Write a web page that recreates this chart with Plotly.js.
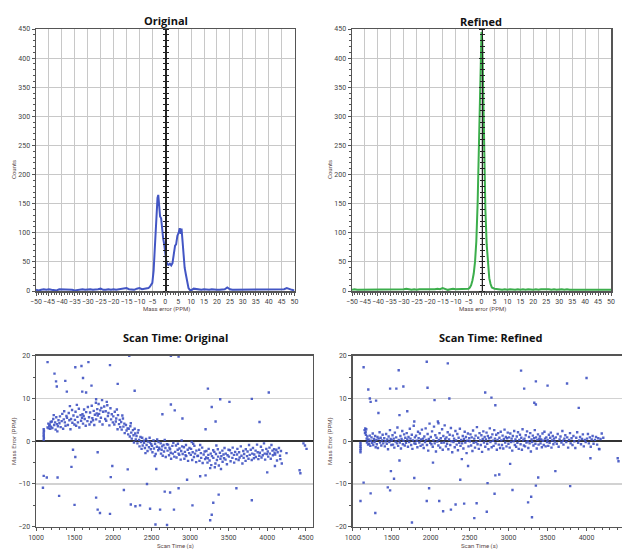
<!DOCTYPE html>
<html>
<head>
<meta charset="utf-8">
<script src="https://cdn.plot.ly/plotly-3.0.1.min.js"></script>
<style>html,body{margin:0;padding:0;background:#fff;}#chart{width:622px;height:549px;}</style>
</head>
<body>
<div id="chart"></div>
<script>
// ---------- Histogram data (Mass error in PPM vs Counts) ----------
const origHistX = [-50,-49,-48,-47,-46,-45,-44,-43,-42,-41,-40,-39,-38,-37,-36,-35,-34,-33,-32,-31,-30,-29,-28,-27,-26,-25,-24,-23,-22,-21,-20,-19,-18,-17,-16,-15,-14,-13,-12,-11,-10,-9,-8,
  -7,-6.5,-6,-5.5,-5,-4.5,-4,-3.5,-3,-2.7,-2.4,-2,-1.6,-1.2,-0.8,-0.4,0,0.4,0.8,1.3,1.8,2.3,2.8,3.3,3.8,4.2,4.7,5.2,5.6,6.0,6.3,6.7,7.1,7.5,8,8.5,9,9.5,
  10,11,12,13,14,15,16,17,18,19,20,21,22,23,24,25,26,27,28,29,30,31,32,33,34,35,36,37,38,39,40,41,42,43,44,45,46,47,48,49,50];
const origHistY = [2,1,2,3,2,3,2,2,1,3,3,2,3,2,2,1,2,2,3,2,3,3,2,2,3,4,2,2,3,2,3,2,3,3,4,5,3,3,2,4,5,3,4,
  4,5,7,10,14,35,80,140,160,165,150,128,125,105,90,80,62,52,46,45,47,44,48,60,78,80,95,100,108,98,107,85,55,40,28,15,5,2,
  1,4,3,2,2,3,2,2,3,2,2,2,3,3,6,3,2,2,2,3,3,2,3,2,2,2,2,3,2,2,3,3,2,2,2,3,3,5,3,2,1];

const refHistX = [-50,-49,-48,-47,-46,-45,-44,-43,-42,-41,-40,-39,-38,-37,-36,-35,-34,-33,-32,-31,-30,-29,-28,-27,-26,-25,-24,-23,-22,-21,-20,-19,-18,-17,-16,-15,-14,-13,-12,-11,-10,-9,-8,-7,
  -6,-5,-4.5,-4,-3.5,-3,-2.5,-2,-1.5,-1,-0.5,0,0.3,0.6,1,1.5,2,2.5,3,3.5,4,5,6,
  7,8,9,10,11,12,13,14,15,16,17,18,19,20,21,22,23,24,25,26,27,28,29,30,31,32,33,34,35,36,37,38,39,40,41,42,43,44,45,46,47,48,49,50];
const refHistY = [2,3,2,2,3,2,2,3,2,2,3,2,3,2,3,2,2,3,3,2,3,4,3,2,3,2,3,3,2,3,3,2,3,4,3,5,3,2,3,4,3,3,4,3,
  3,4,6,10,18,30,50,85,150,260,380,445,430,340,230,140,80,45,22,12,6,4,3,
  3,2,3,2,3,2,2,3,2,3,2,3,2,2,3,2,3,3,4,3,2,3,2,3,3,2,3,2,2,3,2,3,2,3,3,2,2,3,3,2,2,3,2,2];

// ---------- Scatter data (Scan time in s vs Mass error in PPM) ----------
const origBand = [
[1100,0.3],[1100,1.2],[1100,2.0],[1100,2.8],[1102,0.8],[1101,1.6],[1103,2.4],[1150,3.2],[1160,4.1],[1172,3.6],[1185,2.9],[1190,4.5],[1178,3.9],[1165,3.0],[1195,3.4],
[1205,4.6],[1212,3.1],[1224,5.2],[1236,3.8],[1248,4.4],[1255,2.7],[1263,5.6],[1271,4.0],[1284,3.5],[1292,4.9],[1230,6.1],[1277,2.3],
[1304,4.2],[1311,5.8],[1320,3.3],[1333,4.7],[1341,6.4],[1352,2.9],[1360,5.1],[1374,4.4],[1383,3.6],[1395,5.9],[1366,7.0],
[1402,5.5],[1414,3.8],[1425,6.6],[1433,4.9],[1447,2.8],[1455,5.2],[1468,7.3],[1472,4.3],[1486,6.0],[1498,3.9],[1440,8.2],
[1505,5.0],[1513,6.9],[1521,3.6],[1537,5.7],[1544,4.4],[1556,7.6],[1562,3.2],[1578,6.1],[1585,4.8],[1597,5.5],[1530,8.5],
[1603,6.3],[1610,4.1],[1624,7.4],[1632,5.2],[1645,3.6],[1651,6.8],[1667,4.7],[1673,8.0],[1688,5.6],[1694,3.9],[1618,5.9],
[1702,6.7],[1715,4.5],[1723,8.3],[1731,5.4],[1749,7.1],[1756,3.8],[1764,6.2],[1777,9.0],[1780,5.1],[1795,7.5],[1740,4.9],[1788,6.5],
[1801,6.0],[1812,8.7],[1826,4.6],[1834,7.2],[1842,5.5],[1857,9.6],[1863,3.9],[1871,6.9],[1885,8.1],[1898,5.2],[1819,6.4],[1848,7.8],
[1904,7.0],[1911,4.8],[1925,8.4],[1933,5.9],[1940,6.6],[1952,3.7],[1966,7.7],[1974,5.1],[1983,6.3],[1997,4.4],[1918,9.2],
[2003,5.8],[2016,3.9],[2022,6.9],[2035,4.6],[2041,5.3],[2058,2.8],[2064,6.1],[2077,4.0],[2086,5.0],[2093,3.3],[2049,7.4],
[2105,4.5],[2112,2.7],[2128,5.3],[2134,3.4],[2146,4.1],[2151,1.9],[2167,3.8],[2175,2.5],[2188,3.0],[2196,1.6],[2120,6.0],
[2203,2.9],[2217,1.1],[2224,3.5],[2236,2.0],[2242,0.6],[2258,2.6],[2265,1.4],[2271,-0.3],[2287,1.8],[2294,0.4],[2230,4.2],[2280,2.9],
[2304,1.2],[2316,-0.5],[2321,2.0],[2337,0.3],[2343,-1.2],[2355,1.0],[2362,-0.2],[2378,0.8],[2384,-1.0],[2399,0.1],[2330,2.6],[2370,-1.8],
[2402,-0.4],[2413,-1.6],[2428,0.5],[2435,-0.9],[2447,-2.3],[2452,-0.1],[2466,-1.4],[2474,0.8],[2489,-1.9],[2495,-0.7],[2420,-2.8],[2480,-0.3],
[2506,-1.1],[2511,-2.6],[2524,0.2],[2530,-1.7],[2545,-0.6],[2553,-3.0],[2568,-1.3],[2572,0.4],[2586,-2.1],[2597,-1.5],[2540,-3.5],[2590,-0.2],
[2601,-1.8],[2618,-0.5],[2622,-2.9],[2637,-1.2],[2644,-3.4],[2655,-0.9],[2661,-2.4],[2679,-1.6],[2683,-3.7],[2698,-0.7],[2630,-2.0],[2670,0.3],
[2707,-2.2],[2714,-0.8],[2726,-3.3],[2731,-1.5],[2748,-2.7],[2753,-4.1],[2769,-1.1],[2775,-2.9],[2782,-0.4],[2794,-3.6],[2740,-1.9],
[2805,-2.5],[2816,-1.0],[2823,-3.8],[2838,-2.0],[2841,-0.6],[2859,-3.2],[2862,-1.7],[2877,-4.3],[2884,-2.3],[2896,-1.2],[2850,-2.9],[2890,0.2],
[2903,-3.0],[2919,-1.4],[2925,-4.1],[2932,-2.5],[2946,-0.9],[2950,-3.5],[2968,-2.0],[2973,-4.6],[2987,-2.8],[2991,-1.6],[2940,-3.3],
[3008,-3.2],[3012,-1.8],[3027,-4.4],[3033,-2.6],[3049,-3.7],[3055,-1.1],[3064,-2.9],[3078,-4.9],[3081,-2.2],[3095,-3.5],[3040,-0.6],
[3102,-3.4],[3117,-2.0],[3121,-4.6],[3139,-2.8],[3143,-3.9],[3156,-1.5],[3162,-5.1],[3175,-3.1],[3188,-2.4],[3194,-4.2],[3130,-0.9],
[3207,-3.8],[3211,-2.3],[3225,-5.0],[3236,-3.2],[3240,-1.8],[3252,-4.5],[3267,-2.9],[3274,-5.6],[3283,-3.5],[3299,-2.1],[3230,-4.0],[3260,-6.3],
[3301,-3.9],[3314,-2.5],[3328,-5.2],[3335,-3.0],[3347,-4.4],[3359,-1.9],[3363,-3.6],[3372,-5.7],[3386,-2.7],[3393,-4.1],[3320,-6.1],
[3405,-3.5],[3418,-2.2],[3421,-4.8],[3433,-3.1],[3446,-1.6],[3459,-4.3],[3462,-2.9],[3477,-5.4],[3485,-3.3],[3498,-2.0],[3440,-4.0],
[3503,-3.6],[3516,-2.1],[3525,-4.7],[3537,-2.8],[3548,-3.9],[3552,-1.5],[3569,-3.2],[3571,-5.0],[3584,-2.5],[3596,-4.2],
[3608,-3.1],[3613,-1.8],[3629,-4.4],[3635,-2.6],[3642,-3.8],[3657,-1.2],[3666,-3.4],[3678,-5.2],[3689,-2.3],[3694,-3.9],
[3701,-3.0],[3719,-4.6],[3722,-1.9],[3738,-3.5],[3745,-2.4],[3757,-4.1],[3764,-0.9],[3773,-3.2],[3786,-2.0],[3799,-4.4],
[3806,-2.9],[3815,-1.6],[3827,-4.0],[3832,-3.1],[3849,-2.2],[3853,-3.7],[3868,-0.8],[3876,-2.6],[3885,-4.2],[3897,-3.4],
[3904,-2.7],[3918,-1.3],[3926,-3.8],[3939,-2.1],[3942,-3.3],[3958,-0.5],[3967,-2.9],[3973,-4.3],[3988,-1.8],[3995,-3.0],
[4007,-2.4],[4013,-3.6],[4029,-1.5],[4034,-2.9],[4046,-4.1],[4055,-0.9],[4068,-2.2],[4073,-3.3],[4089,-1.9],[4096,-2.7],
[4103,-3.1],[4118,-2.0],[4127,-4.5],[4135,-2.6],[4152,-1.6],[4166,-3.4],[4178,-2.3],[4189,-5.2],
[4250,-2.8],[4420,-6.8],[4430,-7.5],[4490,-1.0],[4510,-1.8],[4470,-0.5]
];
const origOutliers = [
[1150,18.5],[1240,15.8],[1260,14],[1270,12.8],[1380,14.1],[1400,11.6],[1510,17.3],[1590,17.6],[1610,14.8],[1650,11.4],[1600,11.6],[1680,18.5],[1720,13.0],[1780,9.8],
[1960,17.8],[2060,13.4],[2280,11.8],[2210,20],[2850,19.8],[2750,20],[3230,12.3],[3390,9.8],[3510,9.2],[3800,9.9],[4020,11.4],[3900,4.5],[2750,8.6],[2800,7.2],
[2640,6.3],[3330,4.6],[3340,-1],[1090,-10.9],[1100,-8.1],[1140,-8.5],[1280,-8.5],[1300,-12.8],[1460,-6],[1480,-2],[1510,-3.7],[1500,-14.9],[1780,-13.2],[1800,-16],
[1830,-16.8],[1800,-2.6],[1960,-17],[1990,-5.8],[1970,-8.4],[2140,-11.4],[2190,-6.6],[2230,-14.8],[2290,-15.2],[2350,-15],[2440,-10],[2480,-15.8],[2550,-19.5],
[2610,-16],[2670,-11.8],[2700,-19.6],[2740,-12],[2790,-16],[2850,-11],[2960,-9.0],[3030,-15],[3200,-8.0],[3260,-18.5],[3280,-17.2],[3300,-14.4],[3370,-12.5],
[3400,-6.5],[3600,-11.0],[3800,-13.8],[4000,-7.3],[4100,-5.8],[4170,-4.2],[3200,2.8],[3280,8.0],[3020,-0.2],[2560,-6.5],[2900,5.3],[3130,-8.2]
];
const refBand = [
[1100,-0.4],[1100,-1.3],[1100,-2.1],[1101,-0.9],[1102,-1.7],[1100,-2.6],
[1152,2.6],[1158,1.9],[1161,3.0],[1166,2.2],[1170,1.5],[1174,2.8],[1179,0.6],[1183,-0.3],[1188,1.1],[1194,0.2],[1197,-0.8],
[1204,0.4],[1211,-0.6],[1219,1.3],[1226,-1.1],[1233,0.1],[1241,0.9],[1249,-0.4],[1257,1.8],[1264,-0.9],[1272,0.5],[1280,-0.2],[1288,1.2],[1295,-1.4],
[1303,0.3],[1309,-0.7],[1318,1.0],[1324,-1.6],[1332,0.6],[1345,2.1],[1351,-0.3],[1359,0.8],[1367,-1.0],[1376,0.2],[1384,1.5],[1392,-0.5],
[1405,0.7],[1412,-1.2],[1421,0.0],[1429,1.7],[1437,-0.6],[1444,0.4],[1453,-1.9],[1461,1.1],[1470,-0.2],[1478,2.6],[1487,0.5],[1496,-0.9],
[1502,0.2],[1511,1.4],[1517,-0.8],[1526,0.6],[1534,-1.5],[1541,2.0],[1550,-0.1],[1558,0.9],[1567,-0.5],[1574,3.2],[1583,-1.1],[1591,0.3],
[1604,-0.3],[1612,1.2],[1619,-1.7],[1627,0.5],[1636,2.4],[1643,-0.7],[1652,0.1],[1660,1.6],[1668,-1.0],[1675,0.8],[1684,-0.4],[1693,1.9],
[1701,0.4],[1709,-1.3],[1716,1.0],[1725,-0.2],[1733,2.9],[1741,0.6],[1750,-0.9],[1758,1.5],[1766,-1.8],[1774,0.2],[1783,3.6],[1791,-0.5],[1798,0.9],
[1806,-0.6],[1813,1.3],[1821,0.1],[1830,-1.4],[1838,2.2],[1846,0.7],[1855,-0.3],[1862,1.8],[1871,-1.1],[1879,0.4],[1888,2.7],[1896,-0.8],
[1903,0.6],[1911,-1.6],[1919,1.1],[1928,-0.2],[1936,3.0],[1944,0.3],[1953,-0.9],[1961,1.7],[1969,-2.2],[1977,0.5],[1986,4.1],[1994,-0.4],
[2002,1.0],[2010,-0.7],[2018,2.3],[2027,-1.3],[2035,0.2],[2043,3.4],[2052,-0.5],[2060,1.4],[2068,-2.4],[2076,0.8],[2085,-0.1],[2093,4.6],[2099,-1.0],
[2106,0.3],[2114,1.9],[2122,-1.5],[2130,0.7],[2139,-0.4],[2147,2.8],[2155,-2.0],[2163,1.2],[2171,-0.3],[2180,3.7],[2188,0.5],[2196,-1.2],
[2203,0.9],[2211,-0.6],[2219,2.1],[2227,-1.9],[2236,0.4],[2244,1.5],[2252,-0.9],[2260,3.1],[2268,0.0],[2277,-2.6],[2285,1.3],[2293,-0.2],
[2301,0.6],[2309,-1.4],[2318,2.4],[2326,0.2],[2334,-0.8],[2342,1.7],[2350,-2.1],[2359,0.8],[2367,-0.4],[2375,2.9],[2383,-1.1],[2392,0.3],
[2404,-0.5],[2412,1.2],[2420,-1.7],[2428,0.5],[2437,2.2],[2445,-0.3],[2453,1.0],[2461,-2.8],[2470,0.1],[2478,1.8],[2486,-1.2],[2495,0.7],
[2503,0.0],[2511,1.6],[2519,-1.0],[2527,0.9],[2536,-2.3],[2544,2.5],[2552,-0.4],[2560,0.6],[2569,-1.5],[2577,1.3],[2585,-0.2],[2594,3.3],
[2602,-0.7],[2610,0.8],[2618,-1.8],[2627,1.9],[2635,0.2],[2643,-0.9],[2651,1.4],[2660,-2.5],[2668,0.5],[2676,2.3],[2684,-0.3],[2693,1.0],
[2701,-1.3],[2709,0.4],[2717,2.0],[2726,-0.6],[2734,1.2],[2742,-1.9],[2750,0.7],[2759,3.0],[2767,-0.2],[2775,0.9],[2783,-1.4],[2792,1.6],
[2800,0.1],[2808,-1.1],[2816,2.6],[2825,0.6],[2833,-0.5],[2841,1.5],[2849,-2.0],[2858,0.3],[2866,1.9],[2874,-0.8],[2882,0.8],[2891,-1.6],[2899,2.2],
[2907,0.2],[2915,-0.9],[2923,1.3],[2932,-1.7],[2940,0.5],[2948,2.7],[2956,-0.3],[2965,1.0],[2973,-1.2],[2981,0.7],[2989,2.0],[2998,-0.6],
[3006,0.9],[3014,-1.5],[3022,1.8],[3031,-0.2],[3039,0.6],[3047,-2.2],[3055,1.2],[3064,0.0],[3072,2.4],[3080,-0.9],[3088,0.4],[3097,-1.3],
[3105,1.1],[3113,-0.4],[3121,2.1],[3130,-1.8],[3138,0.3],[3146,1.5],[3154,-0.7],[3163,0.8],[3171,-2.0],[3179,2.8],[3187,0.2],[3196,-1.0],
[3204,0.6],[3212,-1.2],[3220,1.4],[3229,-0.3],[3237,2.3],[3245,0.0],[3253,-1.6],[3262,1.0],[3270,-0.5],[3278,1.9],[3286,-2.4],[3295,0.4],
[3303,-0.2],[3311,1.3],[3319,-1.0],[3328,0.7],[3336,2.6],[3344,-0.6],[3352,0.9],[3361,-1.7],[3369,0.3],[3377,1.6],[3385,-0.8],[3394,0.5],
[3402,1.1],[3410,-0.5],[3418,0.4],[3427,-1.4],[3435,1.8],[3443,0.1],[3451,-0.9],[3460,2.2],[3468,0.6],[3476,-1.2],[3484,0.9],[3493,-0.2],
[3501,0.3],[3509,-1.1],[3517,1.5],[3526,-0.4],[3534,0.8],[3542,2.0],[3550,-1.5],[3559,0.2],[3567,1.2],[3575,-0.7],[3583,0.6],[3592,-0.1],
[3606,0.9],[3618,-0.6],[3630,1.7],[3642,-1.3],[3654,0.4],[3666,1.1],[3678,-0.3],[3690,2.4],[3698,0.1],
[3704,-0.8],[3716,0.6],[3728,1.4],[3740,-0.2],[3752,0.9],[3764,-1.5],[3776,0.3],[3788,1.9],[3796,-0.5],
[3808,0.7],[3820,-0.9],[3832,1.2],[3844,0.0],[3856,-1.6],[3868,0.8],[3880,2.1],[3892,-0.4],
[3905,0.2],[3917,1.0],[3929,-0.7],[3941,0.5],[3953,1.6],[3965,-1.2],[3977,0.3],[3989,-0.2],
[4006,0.6],[4018,1.7],[4030,-0.5],[4042,0.9],[4054,-1.3],[4066,0.4],[4078,1.2],[4090,-0.6],
[4108,0.3],[4122,1.0],[4136,-0.8],[4150,0.7],[4164,-1.9],[4180,0.5],[4195,1.8],[4215,0.8]
];
const refOutliers = [
[1140,17.3],[1200,12.1],[1220,10.0],[1230,9.2],[1300,9.5],[1330,6.6],[1480,12.3],[1560,12.3],[1590,16.6],[1600,6.1],[1650,12.8],[1700,7.0],[1790,4.6],[1950,18.6],
[1960,12.5],[2050,9.6],[2100,4.2],[2220,18.2],[2240,10.0],[2700,11.4],[2780,10.2],[2830,8.4],[3160,16.5],[3200,12.3],[3350,14.0],[3330,9.0],[3500,13.0],[3750,13.5],
[3900,7.8],[4000,14.8],[3350,8.6],[1100,-14],[1140,-9.7],[1230,-12.2],[1290,-16.8],[1450,-10.8],[1480,-11.5],[1490,-7.0],[1530,-8.8],[1760,-19],[1790,-8.6],
[1950,-14],[1980,-11],[2110,-14],[2160,-16.4],[2260,-16],[2320,-14.8],[2430,-14.6],[2380,-9],[2560,-18],[2590,-14.5],[2720,-16.5],[2730,-9.8],[2820,-12.3],
[2830,-8],[2880,-7.8],[3050,-11.4],[3250,-14.3],[3290,-13],[3300,-17.8],[3350,-10.4],[3380,-8.5],[3600,-7.0],[3790,-10.5],[4050,-4.0],[4160,-1.8],[4400,-4],
[4410,-4.7],[4500,1.0],[4510,0.2],[2030,-5],[2400,-4.2],[3020,-5.3],[2480,-5.8],[1600,-4.5]
];

// ---------- styling ----------
const W = 622, H = 549;
const px = v => v / W;
const py = v => 1 - v / H;
const tickFont = {family: 'Roboto, sans-serif', size: 7, color: '#444'};
const lineCol = '#555';

const origPts = origBand.concat(origOutliers);
const refPts = refBand.concat(refOutliers);

const traces = [
  {type: 'scatter', mode: 'lines', x: origHistX, y: origHistY, xaxis: 'x', yaxis: 'y',
   line: {color: '#4356c4', width: 2}, hoverinfo: 'skip'},
  {type: 'scatter', mode: 'lines', x: refHistX, y: refHistY, xaxis: 'x2', yaxis: 'y2',
   line: {color: '#3cae4c', width: 2}, hoverinfo: 'skip'},
  {type: 'scatter', mode: 'markers', x: origPts.map(p => p[0]), y: origPts.map(p => p[1]), xaxis: 'x3', yaxis: 'y3',
   marker: {color: '#3f52c2', size: 2.4, symbol: 'square', opacity: 0.9}, hoverinfo: 'skip'},
  {type: 'scatter', mode: 'markers', x: refPts.map(p => p[0]), y: refPts.map(p => p[1]), xaxis: 'x4', yaxis: 'y4',
   marker: {color: '#3f52c2', size: 2.4, symbol: 'square', opacity: 0.9}, hoverinfo: 'skip'},
  {type: 'scatter', x: [], y: [], xaxis: 'x', yaxis: 'y5'},
  {type: 'scatter', x: [], y: [], xaxis: 'x', yaxis: 'y6'},
  {type: 'scatter', x: [], y: [], xaxis: 'x2', yaxis: 'y7'},
  {type: 'scatter', x: [], y: [], xaxis: 'x2', yaxis: 'y8'}
];

function histX(domain) {
  return {domain: domain, range: [-50, 50], tick0: -50, dtick: 5, tickangle: 0,
    showgrid: true, gridcolor: '#c8c8c8', gridwidth: 1, zeroline: false,
    showline: true, linecolor: lineCol, linewidth: 1.5, mirror: true,
    ticks: 'outside', ticklen: 3, tickcolor: lineCol, tickfont: tickFont,
    minor: {dtick: 1, ticks: 'outside', ticklen: 2, tickcolor: lineCol, showgrid: false}, fixedrange: true};
}
function histY(anchor) {
  return {domain: [py(291), py(29)], anchor: anchor, range: [0, 450], dtick: 50,
    showgrid: true, gridcolor: '#c8c8c8', gridwidth: 1, zeroline: false,
    showline: true, linecolor: lineCol, linewidth: 1.5, mirror: true,
    ticks: 'outside', ticklen: 3, tickcolor: lineCol, tickfont: tickFont,
    minor: {dtick: 10, ticks: 'outside', ticklen: 2, tickcolor: lineCol, showgrid: false}, fixedrange: true};
}
function centerAxis(over, pos, side) {
  return {overlaying: over, anchor: 'free', position: pos, side: side, range: [0, 450], dtick: 50,
    showgrid: false, zeroline: false, showticklabels: false,
    showline: true, linecolor: '#222', linewidth: 1.3,
    ticks: 'outside', ticklen: 2.5, tickcolor: '#222', tickwidth: 1,
    minor: {dtick: 10, ticks: 'outside', ticklen: 2, tickcolor: '#222', tickwidth: 1, showgrid: false}, fixedrange: true};
}
function scanX(domain, range, anchor) {
  return {domain: domain, anchor: anchor, range: range, tick0: 1000, dtick: 500, tickangle: 0,
    showgrid: false, zeroline: false,
    showline: true, linecolor: lineCol, linewidth: 1.5, mirror: true,
    ticks: 'outside', ticklen: 3, tickcolor: lineCol, tickfont: tickFont,
    minor: {dtick: 100, ticks: 'outside', ticklen: 2, tickcolor: lineCol, showgrid: false}, fixedrange: true};
}
function scanY(anchor, mirror) {
  return {domain: [py(526.7), py(355.7)], anchor: anchor, range: [-20, 20], dtick: 10,
    showgrid: true, gridcolor: '#d2d2d2', gridwidth: 1.2,
    zeroline: true, zerolinecolor: '#333', zerolinewidth: 1.5,
    showline: true, linecolor: lineCol, linewidth: 1.5, mirror: mirror,
    ticks: 'outside', ticklen: 3, tickcolor: lineCol, tickfont: tickFont,
    minor: {dtick: 5, ticks: 'outside', ticklen: 2, tickcolor: lineCol, showgrid: false}, fixedrange: true};
}

const tlDom = [px(36), px(294.5)];
const trDom = [px(352), px(611)];

const titleFont = {family: 'Open Sans, DejaVu Sans, sans-serif', size: 11, color: '#111', weight: 'bold'};
const axFont = {family: 'Roboto, sans-serif', size: 6, color: '#5a4848'};

function ann(text, x, y, font, extra) {
  return Object.assign({text: text, x: px(x), y: py(y), xref: 'paper', yref: 'paper',
    showarrow: false, font: font, xanchor: 'center', yanchor: 'middle'}, extra || {});
}

const layout = {
  width: W, height: H,
  margin: {l: 0, r: 0, t: 0, b: 0},
  paper_bgcolor: '#fff', plot_bgcolor: '#fff',
  showlegend: false,
  xaxis: Object.assign(histX(tlDom), {anchor: 'y'}),
  yaxis: histY('x'),
  xaxis2: Object.assign(histX(trDom), {anchor: 'y2'}),
  yaxis2: histY('x2'),
  yaxis5: centerAxis('y', (tlDom[0] + tlDom[1]) / 2, 'left'),
  yaxis6: centerAxis('y', (tlDom[0] + tlDom[1]) / 2, 'right'),
  yaxis7: centerAxis('y2', (trDom[0] + trDom[1]) / 2, 'left'),
  yaxis8: centerAxis('y2', (trDom[0] + trDom[1]) / 2, 'right'),
  xaxis3: scanX([px(36), px(312.7)], [1000, 4590], 'y3'),
  yaxis3: scanY('x3', true),
  xaxis4: scanX([px(352.7), 1], [1000, 4455], 'y4'),
  yaxis4: scanY('x4', false),
  annotations: [
    ann('Original', 166, 20, titleFont),
    ann('Refined', 481, 21, titleFont),
    ann('Scan Time: Original', 175, 337, titleFont),
    ann('Scan Time: Refined', 491, 337, titleFont),
    ann('Counts', 14, 170, axFont, {textangle: -90}),
    ann('Counts', 330, 170, axFont, {textangle: -90}),
    ann('Mass error (PPM)', 166, 309, axFont),
    ann('Mass error (PPM)', 482, 309, axFont),
    ann('Mass Error (PPM)', 14, 441, axFont, {textangle: -90}),
    ann('Mass Error (PPM)', 330, 441, axFont, {textangle: -90}),
    ann('Scan Time (s)', 175, 546, axFont),
    ann('Scan Time (s)', 480, 546, axFont)
  ]
};

Plotly.newPlot('chart', traces, layout, {displayModeBar: false, staticPlot: true});
</script>
</body>
</html>
